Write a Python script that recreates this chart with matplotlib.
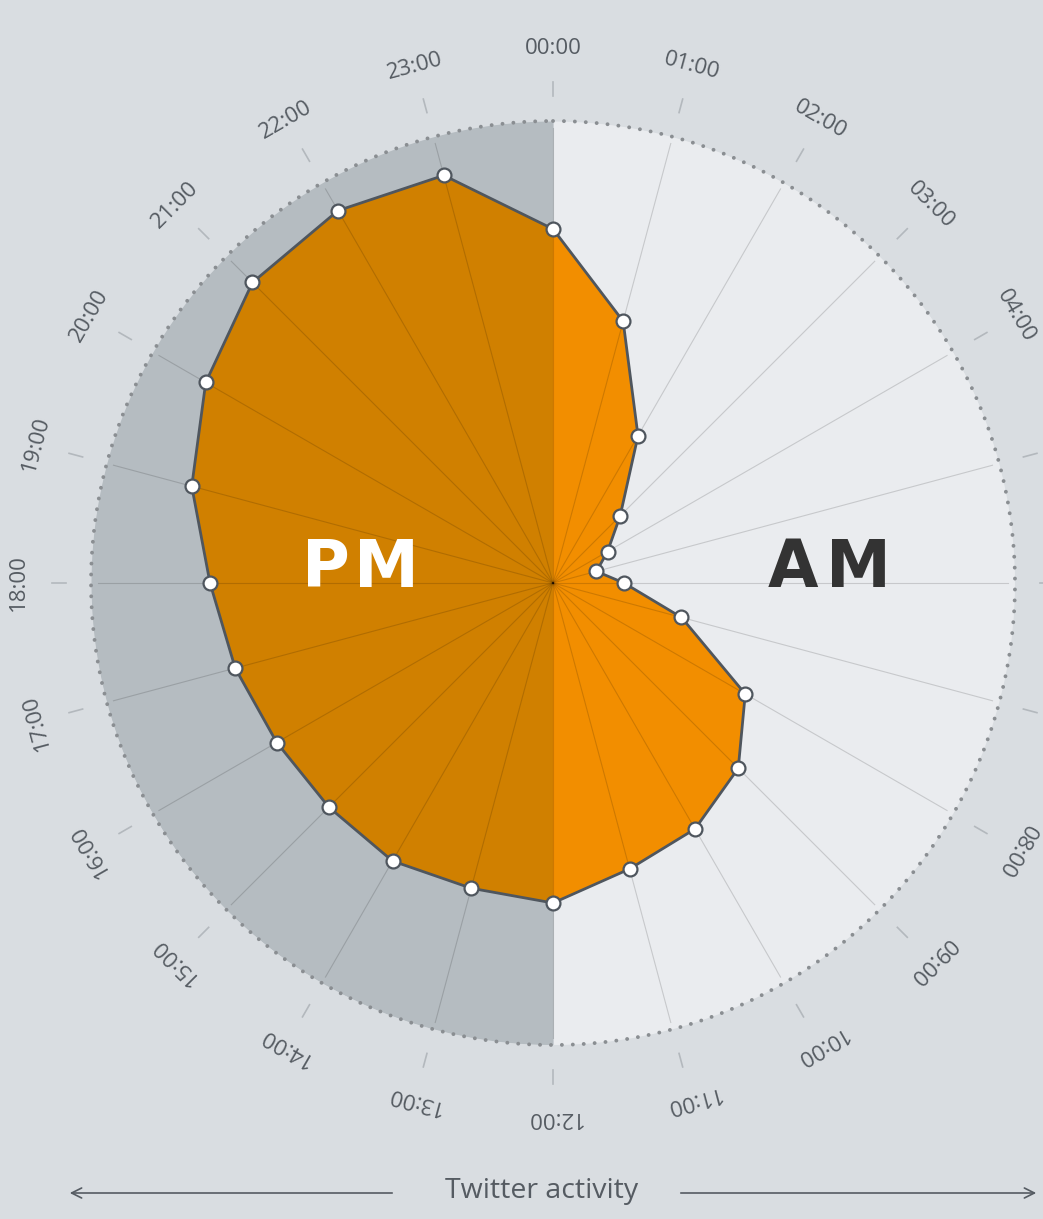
import matplotlib
matplotlib.use("Agg")
import matplotlib.pyplot as plt
import numpy as np

plt.rcParams.update({"font.family": ["Open Sans", "DejaVu Sans"]})

# data: tweet activity per hour (radius, outer ring = 462)
hours = list(range(24))
hour_labels = ["%02d:00" % h for h in hours]
activity = [354, 271, 170, 95, 63, 45, 71, 133, 222, 262, 284, 296,
            320, 316, 321, 317, 319, 329, 343, 374, 401, 425, 430, 422]
r_max = 462

BG = "#d9dde1"
AM_BG = "#eaecef"
PM_BG = "#b5bcc1"
AM_FILL = "#f28e00"
PM_FILL = "#d08000"
LINE = "#4f565e"
TXT = "#555b62"

W, H = 1043, 1219
fig = plt.figure(figsize=(W / 100, H / 100), dpi=100, facecolor=BG)
cx, cy = 553, 583
R = r_max
ax = fig.add_axes([(cx - R) / W, (H - cy - R) / H, 2 * R / W, 2 * R / H],
                  projection="polar")
ax.set_facecolor("none")
ax.set_theta_zero_location("N")
ax.set_theta_direction(-1)
ax.set_ylim(0, r_max)
ax.grid(False)
ax.set_xticks([]); ax.set_yticks([])
ax.spines["polar"].set_visible(False)

theta = np.array(hours) * 2 * np.pi / 24
vals = np.array(activity, dtype=float)

# half backgrounds
t_am = np.linspace(0, np.pi, 200)
t_pm = np.linspace(np.pi, 2 * np.pi, 200)
ax.fill_between(t_am, 0, r_max, color=AM_BG, lw=0, zorder=1)
ax.fill_between(t_pm, 0, r_max, color=PM_BG, lw=0, zorder=1)

# filled activity shape, split into AM / PM halves
am_t = np.concatenate([[0], theta[:13], [np.pi]])
am_r = np.concatenate([[0], vals[:13], [0]])
pm_t = np.concatenate([[np.pi], theta[12:], [2 * np.pi], [2 * np.pi]])
pm_r = np.concatenate([[0], vals[12:], [vals[0]], [0]])
ax.fill(am_t, am_r, color=AM_FILL, lw=0, zorder=2)
ax.fill(pm_t, pm_r, color=PM_FILL, lw=0, zorder=2)

# spokes
for t in theta:
    ax.plot([t, t], [0, r_max - 7], color="black", alpha=0.15, lw=0.8, zorder=3)

# outer dotted ring
tt = np.linspace(0, 2 * np.pi, 800)
ax.plot(tt, np.full_like(tt, r_max), color="#8a8e92", lw=2.8,
        ls=(0, (0.01, 2.8)), dash_capstyle="round", zorder=4, clip_on=False)

# outline and markers
ax.plot(np.append(theta, theta[0]), np.append(vals, vals[0]), color=LINE,
        lw=2, zorder=5)
ax.plot(theta, vals, "o", ms=10, mfc="white", mec=LINE, mew=1.6, zorder=6)

# tick marks and hour labels
for t, lab in zip(theta, hour_labels):
    ax.plot([t, t], [487, 501], color="#b3b8bd", lw=1.2, clip_on=False, zorder=4)
    rot = -np.degrees(t)
    ax.text(t, 535, lab, rotation=rot, rotation_mode="anchor", ha="center",
            va="center", fontsize=16, color=TXT, clip_on=False)

# big AM / PM letters
big = dict(ha="center", va="center", fontsize=47, fontweight="bold",
           family=["DejaVu Sans"])
for ch, x in zip("PM", [326, 386]):
    fig.text(x / W, 1 - 569 / H, ch, color="white", **big)
for ch, x in zip("AM", [793, 858]):
    fig.text(x / W, 1 - 569 / H, ch, color="#333333", **big)

# bottom caption with arrows
yb = 1 - 1193 / H
fig.text(542 / W, 1 - 1191 / H, "Twitter activity", ha="center", va="center",
         fontsize=20.5, color=TXT)
fig.patches.append(matplotlib.patches.FancyArrowPatch(
    (395 / W, yb), (67 / W, yb), transform=fig.transFigure,
    arrowstyle="->", mutation_scale=18, color=TXT, lw=1.2))
fig.patches.append(matplotlib.patches.FancyArrowPatch(
    (678 / W, yb), (1039 / W, yb), transform=fig.transFigure,
    arrowstyle="->", mutation_scale=18, color=TXT, lw=1.2))

fig.savefig("out.png", dpi=100, facecolor=BG)
